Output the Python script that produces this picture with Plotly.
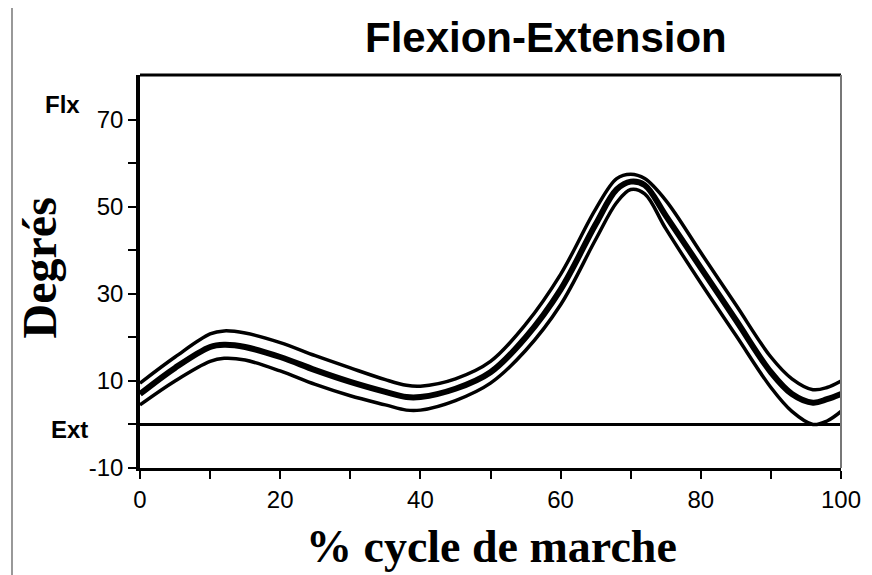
import plotly.graph_objects as go

# % of gait cycle
cycle = [0, 5, 10, 12, 15, 20, 25, 30, 35, 38, 40, 45, 50, 55, 60, 65, 68, 70, 72, 75, 80, 85, 90, 93, 96, 98, 100]

# knee flexion-extension (degrees): mean and +/- band
mean = [7, 13, 17.8, 18.3, 17.8, 15.5, 12.5, 9.8, 7.5, 6.3, 6.3, 8.2, 12, 20, 31, 46, 54, 55.8, 55, 48, 36, 24, 12, 7, 5, 5.8, 7]
upper = [9.5, 15.5, 20.8, 21.5, 21, 18.8, 15.8, 13, 10.3, 9, 8.8, 10.5, 14.5, 23, 34.5, 49.5, 56.5, 57.5, 56.5, 51.5, 39.5, 27.5, 15.5, 10.5, 8, 8.5, 10]
lower = [4.5, 10, 14.5, 15.2, 14.8, 12.3, 9.2, 6.6, 4.5, 3.3, 3.3, 5.5, 9.5, 17, 27.5, 42.5, 51, 54, 53, 45, 32.5, 20.5, 8.5, 3, 0, 0.8, 3]

y_ticks = [-10, 0, 10, 20, 30, 40, 50, 60, 70]
y_labels = ['-10', '', '10', '', '30', '', '50', '', '70']
x_ticks = [0, 10, 20, 30, 40, 50, 60, 70, 80, 90, 100]
x_labels = ['0', '', '20', '', '40', '', '60', '', '80', '', '100']

fig = go.Figure()

for band in (upper, lower):
    fig.add_trace(go.Scatter(x=cycle, y=band, mode='lines', line=dict(color='black', width=3.5, shape='spline'),
                             showlegend=False, hoverinfo='skip'))

fig.add_trace(go.Scatter(x=cycle, y=mean, mode='lines', line=dict(color='black', width=6, shape='spline'),
                         showlegend=False))

# zero line (Ext)
fig.add_shape(type='line', xref='x', yref='y', x0=0, x1=100, y0=0, y1=0, line=dict(color='black', width=3))
# top and right frame
fig.add_shape(type='line', xref='paper', yref='paper', x0=0, x1=1, y0=1, y1=1, line=dict(color='black', width=3))
fig.add_shape(type='line', xref='paper', yref='paper', x0=1, x1=1, y0=0, y1=1, line=dict(color='#777777', width=2))
# scanned page border
fig.add_shape(type='line', xref='paper', yref='paper', x0=-0.1826, x1=1.05, y0=1.1756, y1=1.1756,
              line=dict(color='#777777', width=1.5))
fig.add_shape(type='line', xref='paper', yref='paper', x0=-0.1826, x1=-0.1826, y0=-0.3, y1=1.1756,
              line=dict(color='#777777', width=1.5))

labels = [
    ('<b>Flexion-Extension</b>', 0.579, 1.095, 'Liberation Sans', 42, 0),
    ('<b>Flx</b>', -0.11, 0.924, 'Liberation Sans', 24, 0),
    ('<b>Ext</b>', -0.1, 0.099, 'Liberation Sans', 24, 0),
    ('<b>Degrés</b>', -0.142, 0.509, 'Liberation Serif', 48, -90),
    ('<b>% cycle de marche</b>', 0.502, -0.2, 'Liberation Serif', 46, 0),
]
for text, x, y, fam, size, angle in labels:
    fig.add_annotation(text=text, xref='paper', yref='paper', x=x, y=y, xanchor='center', yanchor='middle',
                       textangle=angle, showarrow=False, font=dict(family=fam, size=size, color='black'))

fig.update_xaxes(range=[0, 100], tickvals=x_ticks, ticktext=x_labels, ticks='outside', ticklen=8,
                 tickwidth=2, tickcolor='black', showline=True, linecolor='black', linewidth=3,
                 showgrid=False, zeroline=False, tickfont=dict(family='Liberation Sans', size=24, color='black'))
fig.update_yaxes(range=[-10, 80.3], tickvals=y_ticks, ticktext=y_labels, ticks='outside', ticklen=8,
                 tickwidth=2, tickcolor='black', showline=True, linecolor='black', linewidth=3.5,
                 showgrid=False, zeroline=False, tickfont=dict(family='Liberation Sans', size=24, color='black'))

# page body adds an 8px margin, so the figure is 8px smaller and shifted
fig.update_layout(width=864, height=567, margin=dict(l=132, r=31, t=67, b=107),
                  plot_bgcolor='white', paper_bgcolor='white', showlegend=False)

fig.write_html("out.html")
